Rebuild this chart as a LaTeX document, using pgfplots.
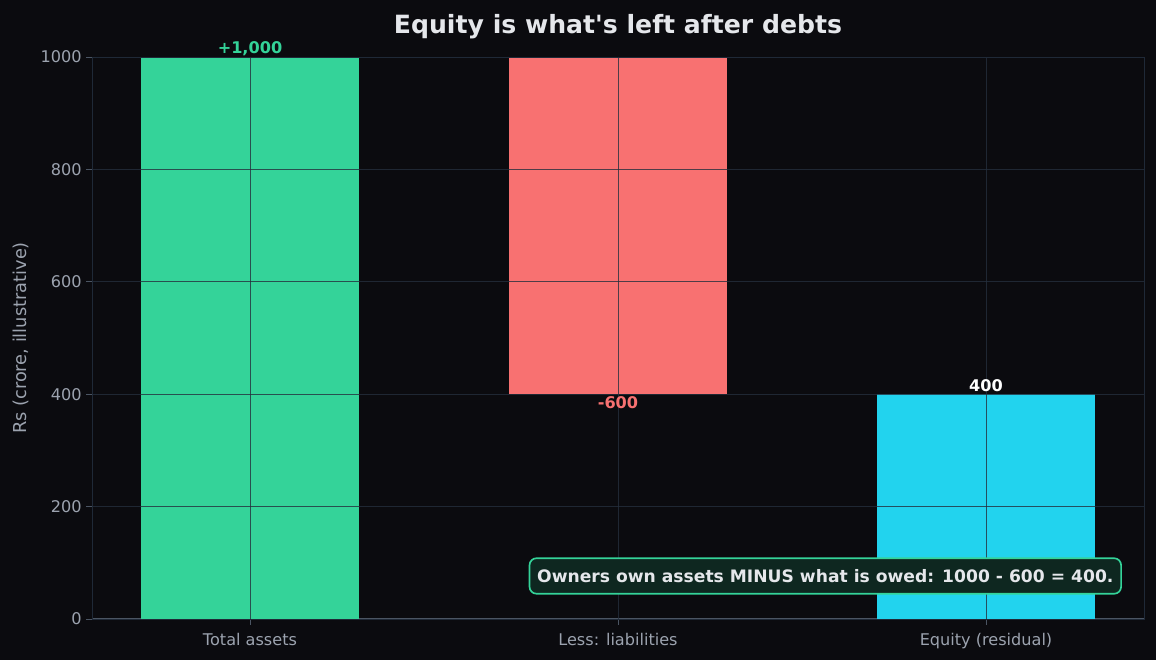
\documentclass[border=0pt]{standalone}
\usepackage{fontspec}
\setmainfont{DejaVu Sans}[Ligatures=TeXOff]
\usepackage{pgfplots}
\pgfplotsset{compat=1.18}
\definecolor{bg}{HTML}{0B0B0F}
\definecolor{gridc}{HTML}{252F3D}
\definecolor{spine}{HTML}{1F2937}
\definecolor{bspine}{HTML}{4B5563}
\definecolor{tickc}{HTML}{9CA3AF}
\definecolor{titlec}{HTML}{E5E7EB}
\definecolor{cgreen}{HTML}{34D399}
\definecolor{cred}{HTML}{F87171}
\definecolor{ccyan}{HTML}{22D3EE}
\definecolor{boxfill}{HTML}{0E2720}
\begin{document}
\begin{tikzpicture}
\fill[bg] (0,0) rectangle (832.32pt,475.2pt);
\useasboundingbox (0,0) rectangle (832.32pt,475.2pt);
\begin{axis}[
  at={(66.24pt,29.52pt)}, anchor=south west,
  scale only axis, width=757.44pt, height=404.64pt,
  xmin=-0.4293, xmax=2.4293, ymin=0, ymax=1000,
  ybar stacked, bar width=0.59,
  xtick={0,1,2}, xticklabels={Total assets,Less: liabilities,Equity (residual)},
  ytick={0,200,400,600,800,1000},
  /pgf/number format/assume math mode=true,
  scaled y ticks=false,
  yticklabel style={/pgf/number format/1000 sep={}},
  tick label style={font=\fontsize{11.6}{13}\selectfont, color=tickc},
  tick align=outside, major tick length=4pt,
  tick style={color=bspine, line width=0.7pt},
  xtick pos=bottom, ytick pos=left,
  grid=major,
  major grid style={color=gridc, line width=0.65pt, opacity=0.8},
  axis on top,
  axis line style={draw=spine, line width=0.7pt},
  ylabel={Rs (crore, illustrative)},
  every axis y label/.style={at={(axis description cs:-0.0675,0.5)}, rotate=90, anchor=center, font=\fontsize{12.8}{15}\selectfont, color=tickc},
  xticklabel style={yshift=-3pt},
  axis background/.style={fill=bg},
]
\addplot[draw=none, fill=none] coordinates {(0,0) (1,400) (2,0)};
\addplot[draw=none, fill=cgreen] coordinates {(0,1000) (1,0) (2,0)};
\addplot[draw=none, fill=cred] coordinates {(0,0) (1,600) (2,0)};
\addplot[draw=none, fill=ccyan] coordinates {(0,0) (1,0) (2,400)};
\draw[bspine, line width=0.9pt] (rel axis cs:0,0) -- (rel axis cs:1,0);
\coordinate (L1) at (axis cs:0,1000);
\coordinate (L2) at (axis cs:1,400);
\coordinate (L3) at (axis cs:2,400);
\coordinate (NB) at (rel axis cs:0.979,0.0765);
\end{axis}
\node[anchor=south, inner sep=1pt, text=cgreen, font=\bfseries\fontsize{11.6}{13}\selectfont] at (L1) {+1,000};
\node[anchor=north, inner sep=1.5pt, text=cred, font=\bfseries\fontsize{11.6}{13}\selectfont] at (L2) {-600};
\node[anchor=south, inner sep=1.5pt, text=white, font=\bfseries\fontsize{11.6}{13}\selectfont] at (L3) {400};
\node[anchor=east, draw=cgreen, line width=1.2pt, fill=boxfill, rounded corners=5pt, inner xsep=5.5pt, inner ysep=8pt, text=titlec, font=\bfseries\fontsize{12.35}{15}\selectfont] at (NB) {Owners own assets MINUS what is owed: 1000 - 600 = 400.};
\node[text=titlec, font=\bfseries\fontsize{18.1}{22}\selectfont] at (444.96pt,456.2pt) {Equity is what's left after debts};
\end{tikzpicture}
\end{document}
